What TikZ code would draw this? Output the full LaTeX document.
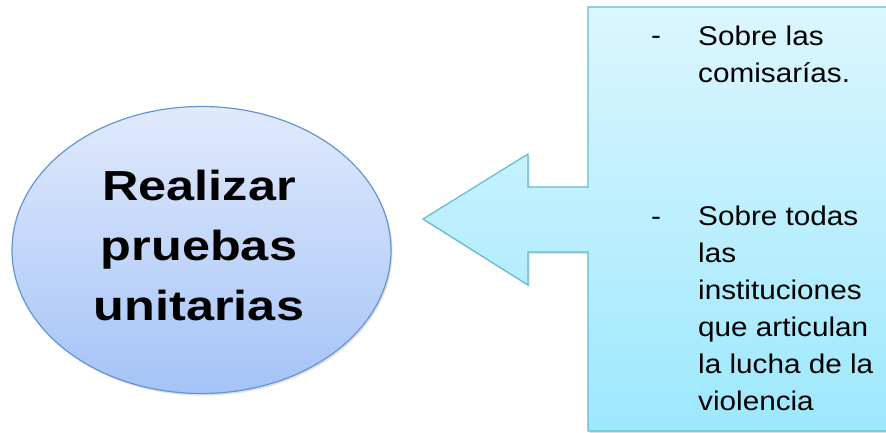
\documentclass[tikz,border=0pt]{standalone}
\usepackage{fontspec}
\setmainfont{Liberation Sans}
\newfontfamily\rfont[FakeStretch=1.1]{Liberation Sans}
\newfontfamily\efont[FakeStretch=1.2]{Liberation Sans}
\usetikzlibrary{shapes.geometric,shadows}
\definecolor{elltop}{HTML}{E0EAFC}
\definecolor{ellbot}{HTML}{A5C3F7}
\definecolor{ellline}{HTML}{6494D6}
\definecolor{caltop}{HTML}{DCF6FE}
\definecolor{calbot}{HTML}{9DE8FD}
\definecolor{calline}{HTML}{62B9D2}
\tikzset{
  ellbox/.style={ellipse, draw=ellline, line width=1.2pt, top color=elltop, bottom color=ellbot,
    minimum width=379pt, minimum height=287pt, inner sep=0pt,
    drop shadow={opacity=0.25, shadow xshift=1.5pt, shadow yshift=-2pt}},
  calshape/.style={draw=calline, line width=1.2pt, top color=caltop, bottom color=calbot,
    drop shadow={opacity=0.25, shadow xshift=1.5pt, shadow yshift=-2pt}},
  elltxt/.style={font=\efont\bfseries\fontsize{42}{60}\selectfont, align=center, inner sep=0pt},
  caltxt/.style={font=\rfont\fontsize{27}{37}\selectfont, align=left, inner sep=0pt},
}
\begin{document}
\begin{tikzpicture}[x=1pt,y=1pt]
\useasboundingbox (0,0) rectangle (886,432);
\fill[white] (0,0) rectangle (886,432);
% callout
\path[calshape] (588,425) -- (588,245) -- (528,245) -- (528,278) -- (423,213)
  -- (528,147) -- (528,180) -- (588,180) -- (588,1) -- (893,1) -- (893,425) -- cycle;
% ellipse
\node[ellbox] (ell) at (201.5,182) {};
\node[elltxt, anchor=north] (elltext) at (199,262) {Realizar\\pruebas\\unitarias};
% callout text
\node[caltxt, anchor=base west] (d1) at (651,387) {-};
\node[caltxt, anchor=north west] (t1) at (698,406.5) {Sobre las\\comisarías.};
\node[caltxt, anchor=base west] (d2) at (651,207) {-};
\node[caltxt, anchor=north west] (t2) at (698,226.5) {Sobre todas\\las\\instituciones\\que articulan\\la lucha de la\\violencia};
\end{tikzpicture}
\end{document}
